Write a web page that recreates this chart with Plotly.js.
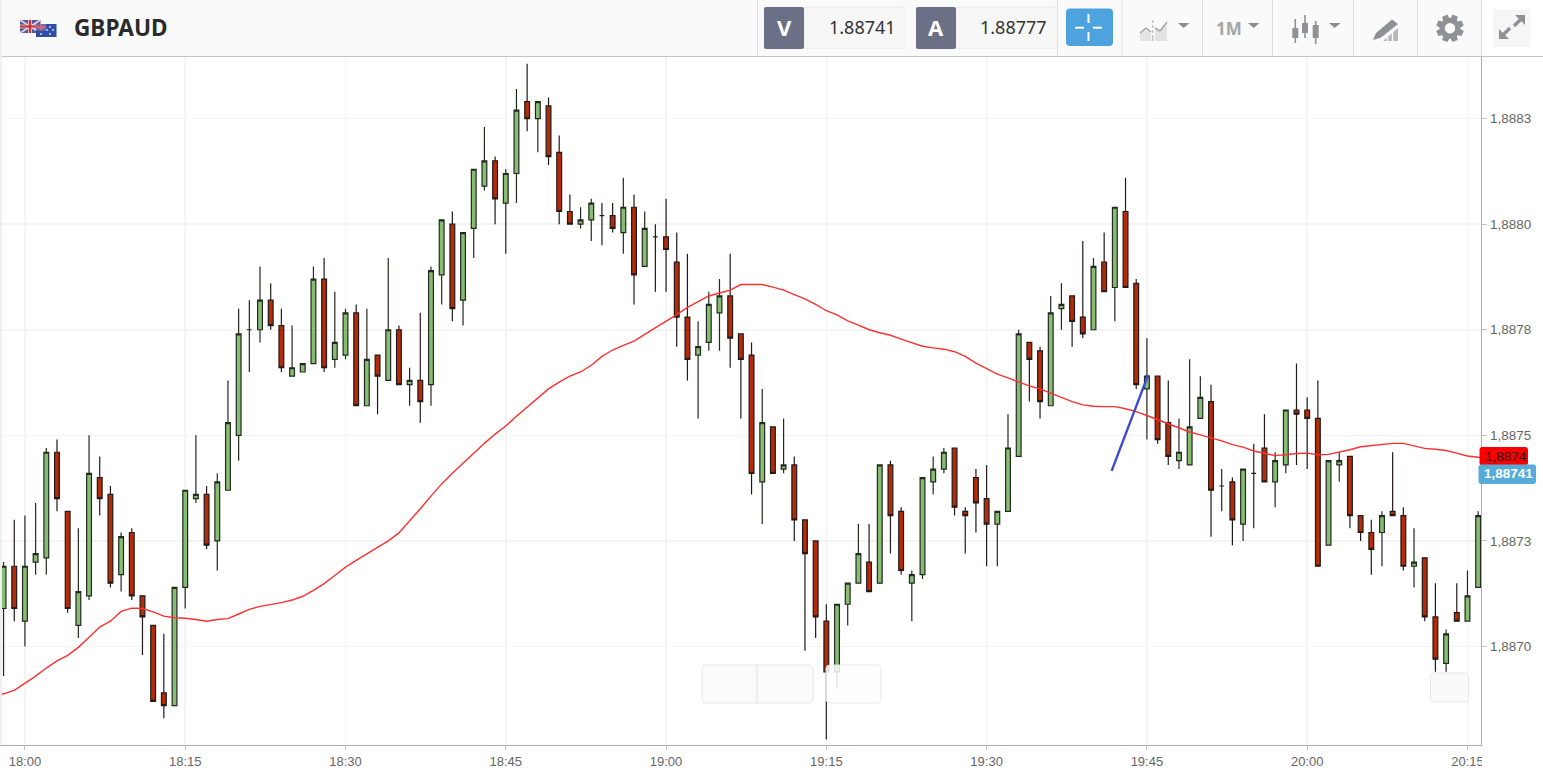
<!DOCTYPE html>
<html>
<head>
<meta charset="utf-8">
<script src="https://cdn.plot.ly/plotly-3.0.1.min.js"></script>
<style>html,body{margin:0;padding:0;background:#fff;overflow:hidden}#chart{width:1543px;height:780px}</style>
</head>
<body>
<div id="chart"></div>
<script>
// Quotes of one-minute candles, first candle 17:58
const firstCandleMinute = -2;
const candleOpen = [
1.88709,1.88719,1.88706,1.88720,1.88721,1.88746,1.88732,1.88705,1.88712,1.88740,
1.88736,1.88717,1.88727,1.88712,1.88705,1.88689,1.88686,1.88714,1.88735,1.88736,
1.88725,1.88737,1.88750,1.88775,1.88775,1.88782,1.88776,1.88764,1.88765,1.88767,
1.88787,1.88768,1.88769,1.88779,1.88757,1.88769,1.88763,1.88775,1.88762,1.88763,
1.88762,1.88788,1.88800,1.88782,1.88799,1.88809,1.88815,1.88805,1.88812,1.88829,
1.88825,1.88828,1.88817,1.88803,1.88800,1.88801,1.88802,1.88802,1.88798,1.88804,
1.88790,1.88797,1.88797,1.88791,1.88778,1.88769,1.88772,1.88779,1.88783,1.88774,
1.88769,1.88739,1.88752,1.88742,1.88743,1.88730,1.88725,1.88706,1.88694,1.88710,
1.88715,1.88720,1.88715,1.88743,1.88732,1.88715,1.88717,1.88739,1.88742,1.88747,
1.88732,1.88740,1.88735,1.88729,1.88732,1.88745,1.88772,1.88770,1.88757,1.88780,
1.88783,1.88778,1.88775,1.88791,1.88785,1.88803,1.88786,1.88761,1.88764,1.88753,
1.88744,1.88743,1.88754,1.88758,1.88738,1.88739,1.88729,1.88741,1.88747,1.88739,
1.88743,1.88756,1.88756,1.88754,1.88724,1.88743,1.88745,1.88731,1.88727,1.88727,
1.88732,1.88731,1.88719,1.88721,1.88707,1.88696,1.88708,1.88706,1.88714];
const candleHigh = [
1.88720,1.88730,1.88731,1.88734,1.88747,1.88749,1.88732,1.88728,1.88750,1.88745,
1.88738,1.88727,1.88728,1.88712,1.88705,1.88703,1.88714,1.88737,1.88750,1.88738,
1.88741,1.88763,1.88780,1.88782,1.88790,1.88786,1.88780,1.88776,1.88767,1.88790,
1.88792,1.88784,1.88780,1.88781,1.88780,1.88769,1.88792,1.88776,1.88766,1.88779,
1.88790,1.88801,1.88803,1.88798,1.88813,1.88823,1.88816,1.88813,1.88832,1.88838,
1.88829,1.88830,1.88821,1.88807,1.88804,1.88806,1.88805,1.88805,1.88811,1.88807,
1.88803,1.88800,1.88806,1.88798,1.88793,1.88777,1.88784,1.88787,1.88793,1.88774,
1.88772,1.88761,1.88752,1.88754,1.88745,1.88730,1.88725,1.88710,1.88710,1.88715,
1.88729,1.88729,1.88743,1.88744,1.88733,1.88718,1.88740,1.88745,1.88747,1.88747,
1.88733,1.88742,1.88743,1.88732,1.88755,1.88775,1.88772,1.88771,1.88783,1.88786,
1.88783,1.88796,1.88792,1.88798,1.88804,1.88811,1.88787,1.88773,1.88764,1.88763,
1.88754,1.88768,1.88764,1.88762,1.88742,1.88740,1.88742,1.88748,1.88755,1.88746,
1.88756,1.88767,1.88759,1.88763,1.88744,1.88746,1.88745,1.88731,1.88730,1.88732,
1.88746,1.88733,1.88728,1.88721,1.88715,1.88704,1.88715,1.88718,1.88732];
const candleLow = [
1.88693,1.88706,1.88700,1.88717,1.88717,1.88732,1.88708,1.88702,1.88711,1.88731,
1.88714,1.88713,1.88711,1.88698,1.88687,1.88683,1.88686,1.88709,1.88734,1.88723,
1.88718,1.88737,1.88744,1.88765,1.88772,1.88775,1.88765,1.88764,1.88765,1.88767,
1.88765,1.88766,1.88768,1.88757,1.88757,1.88755,1.88763,1.88762,1.88757,1.88753,
1.88757,1.88781,1.88777,1.88776,1.88792,1.88808,1.88800,1.88793,1.88805,1.88822,
1.88817,1.88814,1.88800,1.88800,1.88799,1.88796,1.88795,1.88798,1.88793,1.88781,
1.88790,1.88784,1.88784,1.88771,1.88763,1.88754,1.88770,1.88770,1.88766,1.88754,
1.88736,1.88729,1.88741,1.88741,1.88725,1.88699,1.88702,1.88678,1.88690,1.88705,
1.88715,1.88713,1.88715,1.88722,1.88717,1.88706,1.88716,1.88736,1.88741,1.88731,
1.88722,1.88727,1.88719,1.88719,1.88732,1.88745,1.88758,1.88754,1.88757,1.88775,
1.88771,1.88773,1.88775,1.88784,1.88777,1.88785,1.88761,1.88749,1.88748,1.88743,
1.88742,1.88743,1.88754,1.88726,1.88732,1.88724,1.88725,1.88728,1.88739,1.88733,
1.88741,1.88743,1.88742,1.88719,1.88724,1.88739,1.88728,1.88725,1.88717,1.88719,
1.88731,1.88718,1.88714,1.88706,1.88694,1.88694,1.88706,1.88706,1.88714];
const candleClose = [
1.88719,1.88709,1.88719,1.88722,1.88746,1.88735,1.88709,1.88713,1.88741,1.88735,
1.88715,1.88726,1.88712,1.88707,1.88687,1.88686,1.88714,1.88737,1.88736,1.88724,
1.88739,1.88753,1.88774,1.88775,1.88782,1.88776,1.88766,1.88766,1.88767,1.88787,
1.88766,1.88772,1.88779,1.88757,1.88768,1.88764,1.88775,1.88762,1.88763,1.88758,
1.88789,1.88801,1.88780,1.88798,1.88813,1.88815,1.88806,1.88812,1.88827,1.88825,
1.88829,1.88816,1.88803,1.88800,1.88801,1.88805,1.88802,1.88799,1.88804,1.88788,
1.88799,1.88797,1.88794,1.88778,1.88768,1.88771,1.88781,1.88783,1.88773,1.88768,
1.88741,1.88753,1.88741,1.88743,1.88730,1.88722,1.88707,1.88694,1.88710,1.88715,
1.88722,1.88713,1.88743,1.88731,1.88718,1.88717,1.88740,1.88742,1.88746,1.88733,
1.88731,1.88734,1.88729,1.88732,1.88747,1.88774,1.88768,1.88758,1.88779,1.88781,
1.88777,1.88774,1.88790,1.88784,1.88804,1.88785,1.88762,1.88764,1.88749,1.88745,
1.88746,1.88752,1.88759,1.88737,1.88738,1.88730,1.88742,1.88741,1.88739,1.88744,
1.88756,1.88755,1.88754,1.88719,1.88744,1.88744,1.88731,1.88727,1.88723,1.88731,
1.88731,1.88719,1.88720,1.88707,1.88697,1.88703,1.88706,1.88712,1.88731];
// Moving average, one value a minute, first value 17:57
const firstAverageMinute = -3;
const movingAverage = [
1.886883,1.886888,1.886896,1.886912,1.886930,1.886949,1.886966,1.886979,1.886998,1.887022,
1.887046,1.887060,1.887083,1.887091,1.887090,1.887082,1.887072,1.887068,1.887067,1.887064,
1.887060,1.887064,1.887066,1.887077,1.887088,1.887095,1.887099,1.887104,1.887110,1.887119,
1.887133,1.887149,1.887168,1.887188,1.887204,1.887219,1.887236,1.887250,1.887269,1.887297,
1.887326,1.887356,1.887385,1.887410,1.887434,1.887458,1.887481,1.887503,1.887522,1.887545,
1.887567,1.887588,1.887610,1.887626,1.887640,1.887650,1.887666,1.887687,1.887702,1.887713,
1.887723,1.887739,1.887754,1.887769,1.887786,1.887803,1.887817,1.887830,1.887837,1.887844,
1.887857,1.887857,1.887857,1.887851,1.887844,1.887833,1.887823,1.887810,1.887795,1.887785,
1.887771,1.887761,1.887750,1.887743,1.887737,1.887728,1.887719,1.887711,1.887707,1.887704,
1.887698,1.887687,1.887671,1.887658,1.887645,1.887636,1.887626,1.887617,1.887610,1.887600,
1.887589,1.887580,1.887572,1.887569,1.887568,1.887568,1.887563,1.887556,1.887547,1.887537,
1.887527,1.887517,1.887508,1.887501,1.887494,1.887487,1.887478,1.887472,1.887463,1.887457,
1.887452,1.887454,1.887457,1.887458,1.887454,1.887455,1.887460,1.887466,1.887473,1.887476,
1.887479,1.887481,1.887481,1.887475,1.887469,1.887467,1.887464,1.887458,1.887451,1.887448,1.887446];
// Drawn trend line
const trendMinutes = [101.7, 105.13];
const trendPrices = [1.887416, 1.887643];
// Axis labels
const priceTicks = [1.8870, 1.88725, 1.8875, 1.88775, 1.8880, 1.88825];
const priceTickLabels = ['1,8870', '1,8873', '1,8875', '1,8878', '1,8880', '1,8883'];
const symbolName = 'GBPAUD', bidValue = '1.88741', askValue = '1.88777', periodName = '1M';
const averageTag = '1,8874', bidTag = '1,88741';

const clock = m => new Date(Date.UTC(2024, 0, 1, 18, 0, 0) + m * 60000).toISOString().slice(0, 19).replace('T', ' ');
const candleTimes = candleOpen.map((_, i) => clock(firstCandleMinute + i));
const averageTimes = movingAverage.map((_, i) => clock(firstAverageMinute + i));

// Page geometry helpers for the toolbar and overlays
const PW = 1481, PT = 57, PB = 745;
const fx = x => x / PW, fy = y => (PB - y) / (PB - PT);
const shapes = [], notes = [];
const rect = (x0, y0, x1, y1, fill, line, lw) => shapes.push({type: 'rect', xref: 'paper', yref: 'paper', layer: 'above',
  x0: fx(x0), x1: fx(x1), y0: fy(y0), y1: fy(y1), fillcolor: fill, line: {color: line || fill, width: line ? (lw || 1) : 0}});
const poly = (pts, fill, line, lw) => shapes.push({type: 'path', xref: 'paper', yref: 'paper', layer: 'above',
  path: 'M' + pts.map(p => fx(p[0]) + ',' + fy(p[1])).join('L') + 'Z', fillcolor: fill, line: {color: line || fill, width: line ? (lw || 1) : 0}});
const seg = (x0, y0, x1, y1, color, w) => shapes.push({type: 'line', xref: 'paper', yref: 'paper', layer: 'above',
  x0: fx(x0), x1: fx(x1), y0: fy(y0), y1: fy(y1), line: {color, width: w || 1}});
const round = (x0, y0, x1, y1, r, fill, line) => {
  const p = (x, y) => fx(x) + ',' + fy(y);
  shapes.push({type: 'path', xref: 'paper', yref: 'paper', layer: 'above',
    path: 'M' + p(x0 + r, y0) + 'L' + p(x1 - r, y0) + 'Q' + p(x1, y0) + ' ' + p(x1, y0 + r) + 'L' + p(x1, y1 - r) + 'Q' + p(x1, y1) + ' ' + p(x1 - r, y1) +
      'L' + p(x0 + r, y1) + 'Q' + p(x0, y1) + ' ' + p(x0, y1 - r) + 'L' + p(x0, y0 + r) + 'Q' + p(x0, y0) + ' ' + p(x0 + r, y0) + 'Z',
    fillcolor: fill, line: {color: line || fill, width: line ? 1 : 0}});
};
const note = (x, y, text, size, color, weight, anchor, family) => notes.push({xref: 'paper', yref: 'paper', x: fx(x), y: fy(y), text,
  showarrow: false, xanchor: anchor || 'center', yanchor: 'middle', borderpad: 0, borderwidth: 0,
  font: {size, color, family: family || 'Noto Sans, sans-serif', weight: weight || 400}});

// Overlay panels on the chart
round(702, 665, 813, 703, 4, 'rgba(250,250,250,0.88)', '#e8e8e8');
seg(757, 665, 757, 703, '#dedede', 1);
round(826, 665, 881, 703, 4, 'rgba(254,254,254,0.85)', '#e8e8e8');
round(1430.5, 673, 1468.5, 702, 4, 'rgba(250,250,250,0.92)', '#e8e8e8');
// Clip the last time label at the price axis
rect(1481.8, 747, 1543, 780, '#ffffff');
// Toolbar
rect(0, 0, 1482, 56, '#fafafa');
seg(0, 56.5, 1543, 56.5, '#c4c4c4', 1);
rect(0, 0, 2, 745, '#efefef');
[757.5, 1057.5, 1122, 1202.5, 1272.5, 1353.5, 1417.5, 1481.5].forEach(x => seg(x, 0, x, 56, '#dcdcdc', 1));
// Flags
rect(20, 20, 40.5, 33, '#4a5ba3');
seg(20, 20, 40.5, 33, '#e8cfd2', 2); seg(20, 33, 40.5, 20, '#e8cfd2', 2);
rect(28, 20, 32, 33, '#efdcdc'); rect(20, 24.7, 40.5, 28.3, '#efdcdc');
rect(28.8, 20, 31.2, 33, '#c8343c'); rect(20, 25.4, 40.5, 27.6, '#c8343c');
rect(36, 24, 56.5, 37, '#2d4fa6');
rect(36, 24, 46, 30.5, '#7a6a9e');
seg(41, 24, 41, 30.5, '#e46a70', 1.5); seg(36, 27.2, 46, 27.2, '#e46a70', 1.5);
[[41, 34], [50, 27], [53, 30], [50, 34], [47, 30]].forEach(d => rect(d[0] - .8, d[1] - .8, d[0] + .8, d[1] + .8, '#f2f4fa'));
note(73.5, 27.3, symbolName, 22.6, '#2a2a2a', 700, 'left');
// Quote boxes
round(804, 7, 905, 48.5, 3, '#f7f7f7', '#eeeeee');
round(764, 7, 804, 49, 2, '#6b7087');
note(784, 27.5, 'V', 22, '#ffffff', 700);
note(896, 27, bidValue, 18, '#333333', 400, 'right');
round(956, 7, 1057, 48.5, 3, '#f7f7f7', '#eeeeee');
round(916, 7, 956, 49, 2, '#6b7087');
note(936, 27.5, 'A', 22, '#ffffff', 700);
note(1047, 27, askValue, 18, '#333333', 400, 'right');
// Crosshair button
round(1066, 8.5, 1113, 46, 4, '#4ea2de');
seg(1075, 27.7, 1084, 27.7, '#ffffff', 2); seg(1093, 27.7, 1102, 27.7, '#ffffff', 2);
seg(1088.5, 14, 1088.5, 23, '#ffffff', 2); seg(1088.5, 32, 1088.5, 41, '#ffffff', 2);
// Chart type icon
const ICON = '#8e9296', CARET = '#8a8e92';
poly([[1140, 41], [1140, 33], [1146, 28], [1151, 32], [1151, 41]], '#e4e4e4');
poly([[1155, 41], [1155, 28], [1160, 31], [1167, 22], [1167, 41]], '#e4e4e4');
seg(1140, 33, 1146, 28, '#a6a6a6', 1.5); seg(1146, 28, 1151, 32, '#a6a6a6', 1.5);
seg(1155, 28, 1160, 31, '#a6a6a6', 1.5); seg(1160, 31, 1167, 22, '#a6a6a6', 1.5);
seg(1152.8, 20, 1152.8, 23, '#aaaaaa', 1); seg(1152.8, 25, 1152.8, 28, '#aaaaaa', 1); seg(1152.8, 30, 1152.8, 33, '#aaaaaa', 1); seg(1152.8, 35, 1152.8, 41, '#aaaaaa', 1);
[1178, 1248, 1329].forEach(x => poly([[x, 23], [x + 11.5, 23], [x + 5.7, 28]], CARET));
// Period
note(1229, 28, periodName, 17, '#a3a6a9', 700);
// Candle icon
[[1295.3, 19, 28, 38, 43], [1305, 15, 23, 33, 38], [1315.7, 21, 25, 38, 44]].forEach(c => {
  seg(c[0], c[1], c[0], c[4], ICON, 1.6); rect(c[0] - 3, c[2], c[0] + 3, c[3], ICON);
});
// Drawing icon
poly([[1373, 40], [1376, 33], [1392, 19.5], [1398, 24], [1383, 36], [1380, 38]], ICON);
poly([[1383, 41], [1398, 28], [1398, 41]], '#b6b8ba');
seg(1387.5, 41, 1387.5, 36, '#fafafa', 1.5); seg(1392.5, 41, 1392.5, 31.5, '#fafafa', 1.5);
// Gear icon
const gear = [], gc = [1450, 28.3];
for (let i = 0; i < 8; i++) {
  const a = i * Math.PI / 4 + Math.PI / 8;
  [[-.33, 10.4], [-.2, 14], [.2, 14], [.33, 10.4]].forEach(s => gear.push([gc[0] + s[1] * Math.cos(a + s[0]), gc[1] + s[1] * Math.sin(a + s[0])]));
}
poly(gear, ICON);
const hole = [];
for (let i = 0; i < 20; i++) hole.push([gc[0] + 5.2 * Math.cos(i * Math.PI / 10), gc[1] + 5.2 * Math.sin(i * Math.PI / 10)]);
poly(hole, '#fafafa');
// Expand icon
rect(1493, 10, 1530.5, 47, '#f6f6f6');
poly([[1525, 15], [1525, 25], [1515, 15]], ICON); seg(1520.5, 19.5, 1514, 26, ICON, 3.4);
poly([[1499, 39], [1499, 29], [1509, 39]], ICON); seg(1503.5, 34.5, 1510, 28, ICON, 3.4);
// Price tags
round(1479.5, 447, 1528, 465.5, 3, '#fb0000');
note(1505.5, 456.3, averageTag, 13.5, '#2b0f0f', 400, 'center', 'Liberation Sans, Arial, sans-serif');
round(1478.5, 464.5, 1536, 484, 3, '#56acd9');
note(1508, 473.7, bidTag, 13.5, '#ffffff', 700, 'center', 'Liberation Sans, Arial, sans-serif');

const data = [
  {type: 'candlestick', x: candleTimes, open: candleOpen, high: candleHigh, low: candleLow, close: candleClose,
   whiskerwidth: 0, hoverinfo: 'skip',
   increasing: {line: {color: '#222a20', width: 1.2}, fillcolor: '#86bd72'},
   decreasing: {line: {color: '#221a18', width: 1.2}, fillcolor: '#b32b08'}},
  {type: 'scatter', mode: 'lines', x: averageTimes, y: movingAverage, hoverinfo: 'skip', line: {color: '#ff3030', width: 1.4}},
  {type: 'scatter', mode: 'lines', x: trendMinutes.map(clock), y: trendPrices, hoverinfo: 'skip', line: {color: '#3d48d4', width: 2.4}}
];
const layout = {
  width: 1543, height: 780, autosize: false, showlegend: false, boxgap: 0.36,
  paper_bgcolor: '#ffffff', plot_bgcolor: '#ffffff',
  margin: {l: 0, r: 62, t: 57, b: 35, pad: 0},
  xaxis: {type: 'date', range: [clock(-2.33), clock(136.27)], tick0: clock(0), dtick: 900000, tickformat: '%H:%M',
    rangeslider: {visible: false}, showgrid: true, gridcolor: '#f4f4f4', gridwidth: 1.6, zeroline: false,
    showline: true, linecolor: '#adadad', linewidth: 1.2, ticks: 'outside', ticklen: 4, tickcolor: '#c4c4c4', tickwidth: 1,
    tickfont: {family: 'Liberation Sans, Arial, sans-serif', size: 13, color: '#666666'}},
  yaxis: {side: 'right', range: [1.8867668, 1.8883958], tickmode: 'array', tickvals: priceTicks, ticktext: priceTickLabels,
    showgrid: true, gridcolor: '#f4f4f4', gridwidth: 1.6, zeroline: false,
    showline: true, linecolor: '#adadad', linewidth: 1.2, ticks: 'outside', ticklen: 5, tickcolor: '#c4c4c4', tickwidth: 1,
    tickfont: {family: 'Liberation Sans, Arial, sans-serif', size: 13.5, color: '#666666'}},
  shapes, annotations: notes
};
Plotly.newPlot('chart', data, layout, {staticPlot: true, displayModeBar: false});
</script>
</body>
</html>
